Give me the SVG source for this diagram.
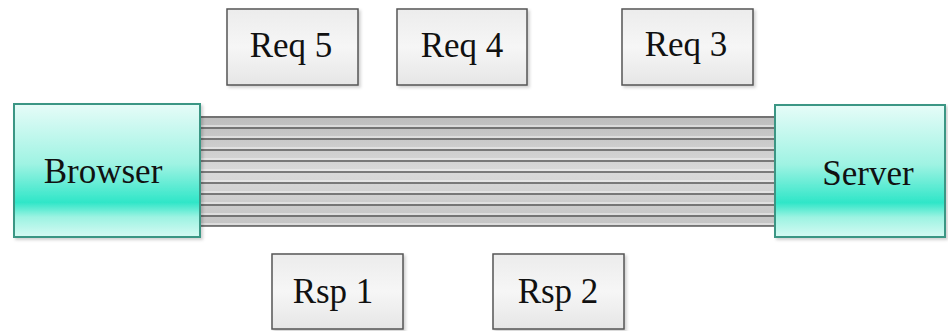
<svg xmlns="http://www.w3.org/2000/svg" width="948" height="331" viewBox="0 0 948 331">
  <defs>
    <linearGradient id="tealFill" x1="0" y1="0" x2="0" y2="1">
      <stop offset="0" stop-color="#e6fcf8"/>
      <stop offset="0.45" stop-color="#9ff3e3"/>
      <stop offset="0.74" stop-color="#2fe6c8"/>
      <stop offset="0.85" stop-color="#9cf3e2"/>
      <stop offset="1" stop-color="#d6faf3"/>
    </linearGradient>
    <linearGradient id="grayFill" x1="0" y1="0" x2="0" y2="1">
      <stop offset="0" stop-color="#ececec"/>
      <stop offset="0.5" stop-color="#f6f6f6"/>
      <stop offset="1" stop-color="#e6e6e6"/>
    </linearGradient>
    <linearGradient id="tubeFill" x1="0" y1="0" x2="0" y2="1">
      <stop offset="0" stop-color="#bdbdbd"/>
      <stop offset="0.5" stop-color="#d9d9d9"/>
      <stop offset="1" stop-color="#c4c4c4"/>
    </linearGradient>
    <filter id="shadow" x="-10%" y="-10%" width="120%" height="130%">
      <feDropShadow dx="2" dy="2" stdDeviation="1.5" flood-color="#000" flood-opacity="0.18"/>
    </filter>
  </defs>
  <style>
    .label { font-family: "Liberation Serif", "Times New Roman", serif; font-size: 35px; fill: #111; text-anchor: middle; }
    .endpoint { fill: url(#tealFill); stroke: #3a9684; stroke-width: 2; filter: url(#shadow); }
    .msg { fill: url(#grayFill); stroke: #555; stroke-width: 1.5; filter: url(#shadow); }
    .tube { fill: url(#tubeFill); }
    .edgeDark { stroke: #5a5a5a; stroke-width: 1.6; }
    .edgeLight { stroke: #f4f4f4; stroke-width: 1.2; }
  </style>

  <rect width="948" height="331" fill="#ffffff"/>

  <!-- bundle of parallel connections between browser and server -->
  <g id="connections">
    <rect class="tube" x="200" y="116" width="575" height="110"/>
    <g class="edgeDark">
      <line x1="200" y1="117" x2="775" y2="117"/>
      <line x1="200" y1="128" x2="775" y2="128"/>
      <line x1="200" y1="139" x2="775" y2="139"/>
      <line x1="200" y1="150" x2="775" y2="150"/>
      <line x1="200" y1="161" x2="775" y2="161"/>
      <line x1="200" y1="172" x2="775" y2="172"/>
      <line x1="200" y1="183" x2="775" y2="183"/>
      <line x1="200" y1="194" x2="775" y2="194"/>
      <line x1="200" y1="205" x2="775" y2="205"/>
      <line x1="200" y1="216" x2="775" y2="216"/>
      <line x1="200" y1="226" x2="775" y2="226"/>
    </g>
    <g class="edgeLight">
      <line x1="200" y1="126" x2="775" y2="126"/>
      <line x1="200" y1="137" x2="775" y2="137"/>
      <line x1="200" y1="148" x2="775" y2="148"/>
      <line x1="200" y1="159" x2="775" y2="159"/>
      <line x1="200" y1="170" x2="775" y2="170"/>
      <line x1="200" y1="181" x2="775" y2="181"/>
      <line x1="200" y1="192" x2="775" y2="192"/>
      <line x1="200" y1="203" x2="775" y2="203"/>
      <line x1="200" y1="214" x2="775" y2="214"/>
      <line x1="200" y1="224" x2="775" y2="224"/>
    </g>
  </g>

  <g id="browser">
    <rect class="endpoint" x="14" y="104" width="186" height="133"/>
    <text class="label" x="103" y="183">Browser</text>
  </g>

  <g id="server">
    <rect class="endpoint" x="775" y="105" width="170" height="132"/>
    <text class="label" x="868" y="185">Server</text>
  </g>

  <g id="req5">
    <rect class="msg" x="227" y="9" width="131" height="76"/>
    <text class="label" x="291" y="57">Req 5</text>
  </g>

  <g id="req4">
    <rect class="msg" x="397" y="9" width="130" height="76"/>
    <text class="label" x="462" y="57">Req 4</text>
  </g>

  <g id="req3">
    <rect class="msg" x="622" y="9" width="131" height="76"/>
    <text class="label" x="686" y="56">Req 3</text>
  </g>

  <g id="rsp1">
    <rect class="msg" x="272" y="254" width="131" height="75"/>
    <text class="label" x="333" y="303">Rsp 1</text>
  </g>

  <g id="rsp2">
    <rect class="msg" x="493" y="254" width="131" height="75"/>
    <text class="label" x="558" y="303">Rsp 2</text>
  </g>
</svg>
